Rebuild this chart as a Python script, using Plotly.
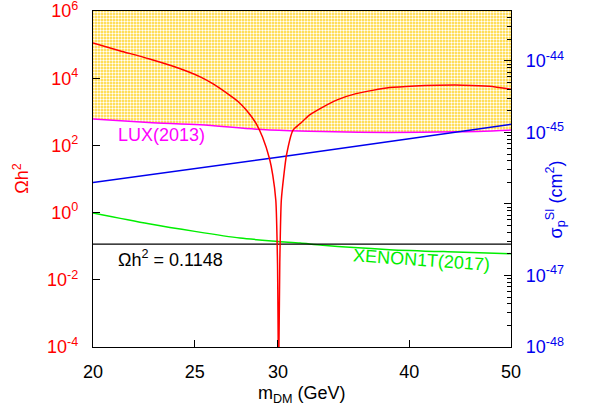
import math
import plotly.graph_objects as go

# ---------------- data ----------------
# relic density (left axis)
m_relic = [20, 21.2, 22.6, 24.18, 25.3, 26.0, 27.0, 27.5, 28.0, 28.6, 29.0, 29.45, 29.66, 29.86, 29.97, 30.04,
           30.12, 30.22, 30.39, 30.56, 31.0, 31.5, 32.14, 33.1, 34.2, 35.6, 38.3, 40.5, 42.7, 45.0, 47.7, 50]
omega_h2 = [1.12e5, 6.6e4, 3.8e4, 1.95e4, 1.1e4, 6.9e3, 3.1e3, 2.0e3, 1.12e3, 447, 178, 40, 13, 2.3, 0.032, 1e-5,
            0.032, 2.3, 13, 50, 282, 447, 794, 1.38e3, 2.3e3, 3.47e3, 5.25e3, 5.9e3, 6.17e3, 6.2e3, 5.75e3, 4.68e3]

omega_obs_x = [20, 50]
omega_obs = [0.1148, 0.1148]

# spin-independent cross section (right axis)
m_sigma = [20, 30, 40, 50]
sigma_p = [2.0e-46, 4.5e-46, 8.2e-46, 1.3e-45]

m_lux = [20, 22.6, 25.3, 28.6, 30.8, 33.1, 38.3, 44.3, 50]
sigma_lux = [1.54e-45, 1.38e-45, 1.28e-45, 1.11e-45, 1.06e-45, 1.03e-45, 1.00e-45, 1.02e-45, 1.08e-45]

m_xenon = [20, 22.6, 25.0, 27.6, 30, 31.5, 33.1, 38.3, 44.3, 50]
sigma_xenon = [7.5e-47, 5.3e-47, 4.14e-47, 3.34e-47, 3.0e-47, 2.84e-47, 2.64e-47, 2.30e-47, 2.13e-47, 2.02e-47]

x_ticks = [20, 25, 30, 40, 50]
left_ticks = [1e-4, 1e-2, 1, 1e2, 1e4, 1e6]
left_ticktext = ["10<sup>-4</sup>", "10<sup>-2</sup>", "10<sup>0</sup>", "10<sup>2</sup>",
                 "10<sup>4</sup>", "10<sup>6</sup>"]
right_ticks = [1e-48, 1e-47, 1e-46, 1e-45, 1e-44]
right_ticktext = ["10<sup>-48</sup>", "10<sup>-47</sup>", "", "10<sup>-45</sup>", "10<sup>-44</sup>"]

X_RANGE = [20, 50]
OMEGA_RANGE = [1e-4, 1e6]
SIGMA_RANGE = [1e-48, 5e-44]

FONT = "Liberation Sans, Arial, Helvetica, sans-serif"
RED = "#ff0000"
BLUE = "#0000ee"
GREEN = "#00ee00"
MAGENTA = "#ff00ff"

fig = go.Figure()

# excluded region above LUX (sigma axis = base 'y')
fill_x = m_lux + m_lux[::-1]
fill_y = sigma_lux + [SIGMA_RANGE[1] * 10] * len(m_lux)
fig.add_trace(go.Scatter(
    x=fill_x, y=fill_y, mode="lines", fill="toself", line=dict(width=0),
    fillcolor="#FFD424",
    fillpattern=dict(shape=".", bgcolor="#FFD424", fgcolor="#ffffff", size=3, solidity=0.5,
                     fillmode="replace"),
    yaxis="y", hoverinfo="skip", showlegend=False))

fig.add_trace(go.Scatter(x=m_lux, y=sigma_lux, mode="lines",
                         line=dict(color=MAGENTA, width=1.5, shape="spline", smoothing=0.8),
                         yaxis="y", showlegend=False))
fig.add_trace(go.Scatter(x=m_xenon, y=sigma_xenon, mode="lines",
                         line=dict(color=GREEN, width=1.5, shape="spline", smoothing=0.8),
                         yaxis="y", showlegend=False))
fig.add_trace(go.Scatter(x=m_sigma, y=sigma_p, mode="lines", line=dict(color=BLUE, width=1.5),
                         yaxis="y", showlegend=False))

# relic density on overlaying left axis
fig.add_trace(go.Scatter(x=omega_obs_x, y=omega_obs, mode="lines", line=dict(color="black", width=1.3),
                         yaxis="y2", showlegend=False))
fig.add_trace(go.Scatter(x=m_relic, y=omega_h2, mode="lines",
                         line=dict(color=RED, width=1.5, shape="spline", smoothing=0.6),
                         yaxis="y2", showlegend=False))

axis_common = dict(showgrid=False, zeroline=False, showline=True, linecolor="black", linewidth=1.2,
                   ticks="inside", tickcolor="black", automargin=False, ticklabeloverflow="allow")

minor_right = [k * 10.0 ** e for e in range(-48, -43) for k in range(2, 10)]

fig.update_layout(
    width=592, height=410,
    margin=dict(l=93, r=80.6, t=11, b=63, autoexpand=False),
    paper_bgcolor="white", plot_bgcolor="white",
    font=dict(family=FONT, size=18, color="black"),
    xaxis=dict(type="log", range=[math.log10(X_RANGE[0]), math.log10(X_RANGE[1])],
               tickmode="array", tickvals=x_ticks, ticktext=[str(v) for v in x_ticks],
               ticklen=7, mirror=True, tickfont=dict(size=18, color="black"),
               ticklabelstandoff=8, **axis_common),
    yaxis=dict(type="log", side="right",
               range=[math.log10(SIGMA_RANGE[0]), math.log10(SIGMA_RANGE[1])],
               tickmode="array", tickvals=right_ticks, ticktext=right_ticktext, ticklen=7,
               tickfont=dict(size=18, color=BLUE), ticklabelstandoff=10,
               minor=dict(tickmode="array", tickvals=minor_right, ticks="inside", ticklen=4,
                          tickcolor="black"),
               **axis_common),
    yaxis2=dict(type="log", side="left", overlaying="y",
                range=[math.log10(OMEGA_RANGE[0]) - 1e-6, math.log10(OMEGA_RANGE[1]) + 1e-6],
                tickmode="array", tickvals=left_ticks, ticktext=left_ticktext, ticklen=7,
                tickfont=dict(size=18, color=RED), ticklabelstandoff=10,
                **axis_common),
)

annotations = [
    dict(text="Ωh<sup>2</sup>", xref="paper", yref="paper", x=-0.1728, y=0.5, textangle=-90,
         showarrow=False, font=dict(size=18, color=RED), xanchor="center", yanchor="middle"),
    dict(text="σ<sub>p</sub><sup>SI</sup> (cm<sup>2</sup>)", xref="paper", yref="paper",
         x=1.106, y=0.44, textangle=-90, showarrow=False, font=dict(size=18, color=BLUE),
         xanchor="center", yanchor="middle"),
    dict(text="m<sub>DM</sub> (GeV)", xref="paper", yref="paper", x=0.5, y=-0.14,
         showarrow=False, font=dict(size=18, color="black"), xanchor="center", yanchor="middle"),
    dict(text="LUX(2013)", xref="x", yref="y", x=math.log10(21.05), y=-45.03, showarrow=False,
         font=dict(size=18, color=MAGENTA), xanchor="left", yanchor="middle"),
    dict(text="Ωh<sup>2</sup> = 0.1148", xref="x", yref="y2", x=math.log10(21.02), y=-1.36,
         showarrow=False, font=dict(size=18, color="black"), xanchor="left", yanchor="middle"),
    dict(text="XENON1T(2017)", xref="x", yref="y", x=math.log10(41.1), y=-46.79, textangle=4,
         showarrow=False, font=dict(size=18, color=GREEN), xanchor="center", yanchor="middle"),
]
fig.update_layout(annotations=annotations)

# remove the default page margin so the figure fills the window from its top-left corner
fig.write_html("out.html", config={"displayModeBar": False},
               post_script="document.body.style.margin='0';")
